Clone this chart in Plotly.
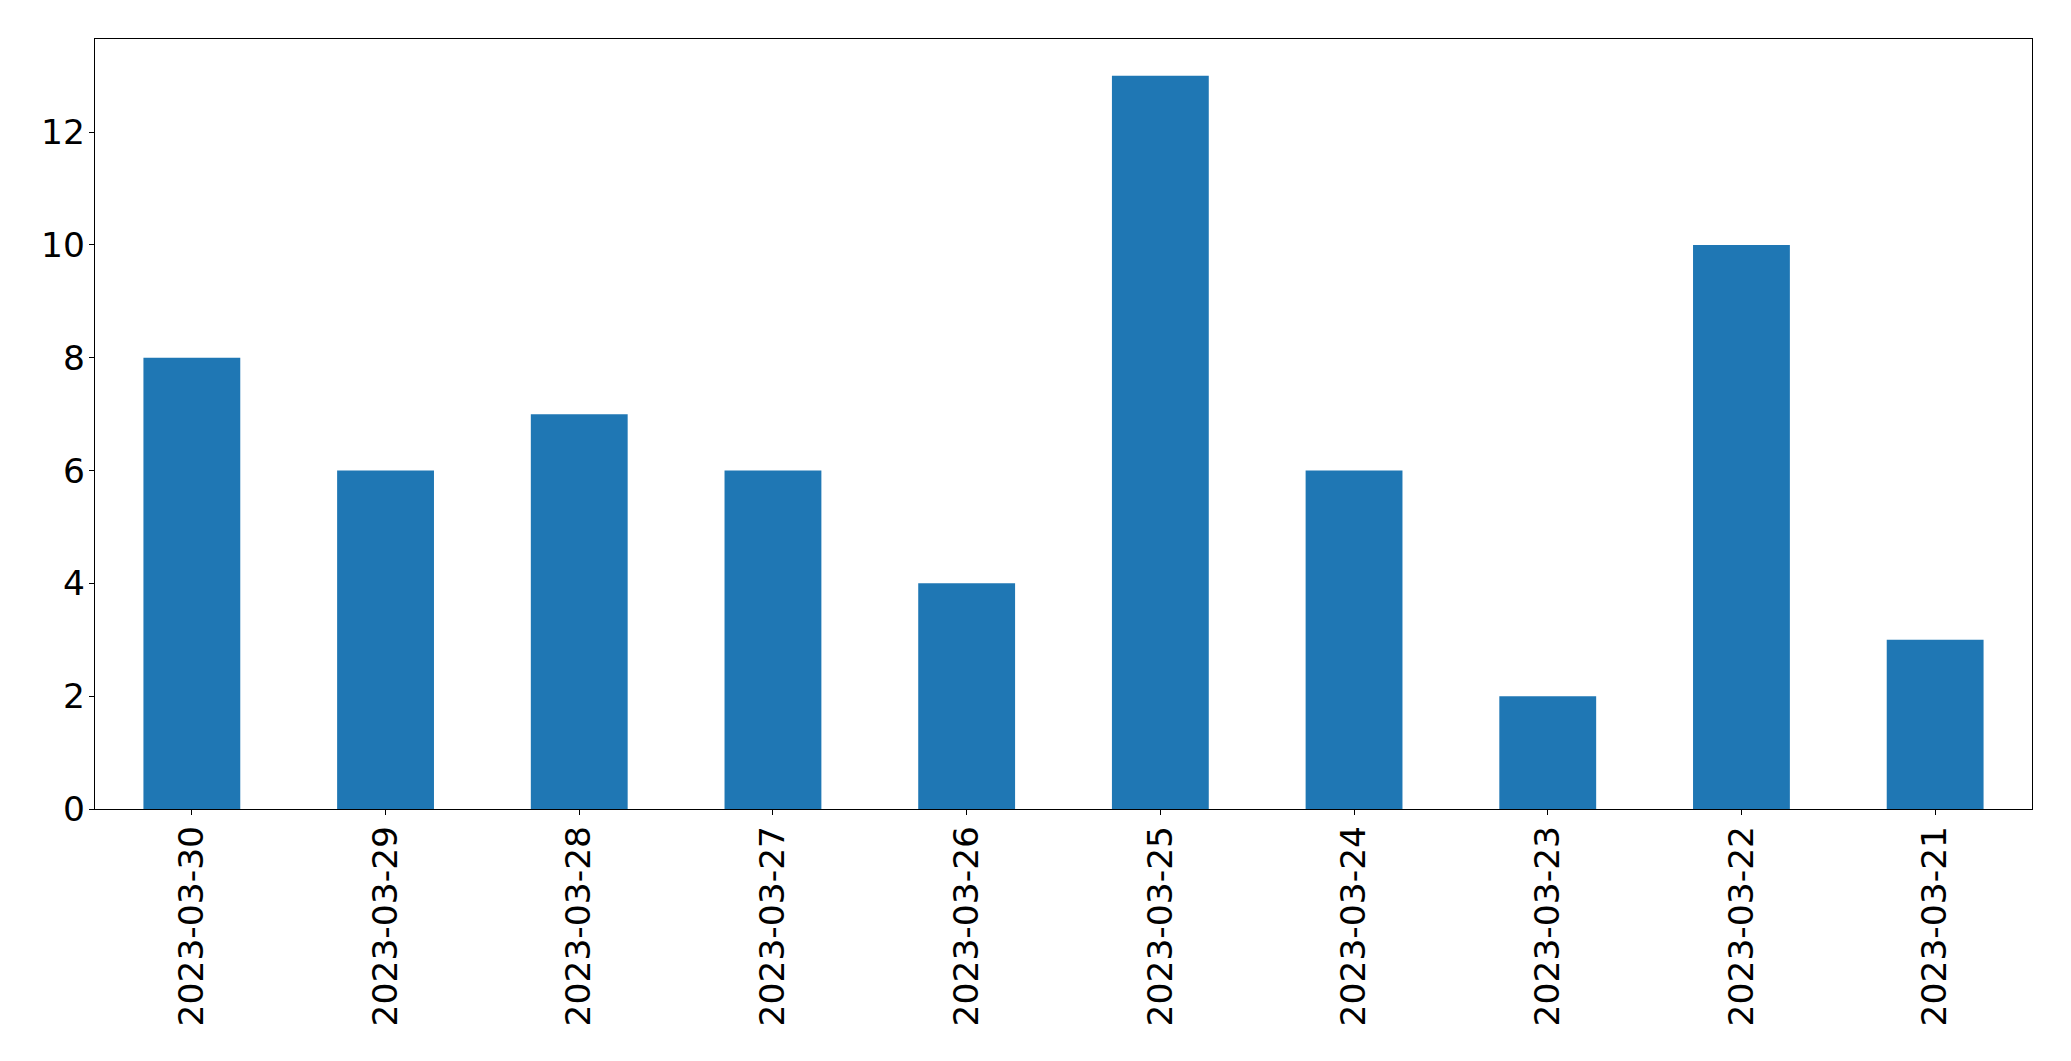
import plotly.graph_objects as go

dates = ["2023-03-30", "2023-03-29", "2023-03-28", "2023-03-27", "2023-03-26",
         "2023-03-25", "2023-03-24", "2023-03-23", "2023-03-22", "2023-03-21"]
counts = [8, 6, 7, 6, 4, 13, 6, 2, 10, 3]
y_ticks = [0, 2, 4, 6, 8, 10, 12]

fig = go.Figure(go.Bar(x=dates, y=counts, width=0.5, marker_color="#1f77b4",
                       marker_line_width=0))

axis_common = dict(showline=True, mirror=True, linecolor="black", linewidth=1.3,
                   ticks="outside", ticklen=5, tickwidth=1.3, tickcolor="black",
                   showgrid=False, zeroline=False,
                   tickfont=dict(family="DejaVu Sans", size=34.5, color="black"))

fig.update_layout(
    width=2063, height=1053,
    margin=dict(l=87, r=39, t=31, b=252),
    paper_bgcolor="white", plot_bgcolor="white",
    showlegend=False,
    xaxis=dict(type="category", range=[-0.5, 9.5], tickangle=-90,
               ticklabelstandoff=-3, **axis_common),
    yaxis=dict(range=[0, 13.65], tickvals=y_ticks, ticklabelstandoff=-3,
               **axis_common),
)

fig.write_html("out.html")
